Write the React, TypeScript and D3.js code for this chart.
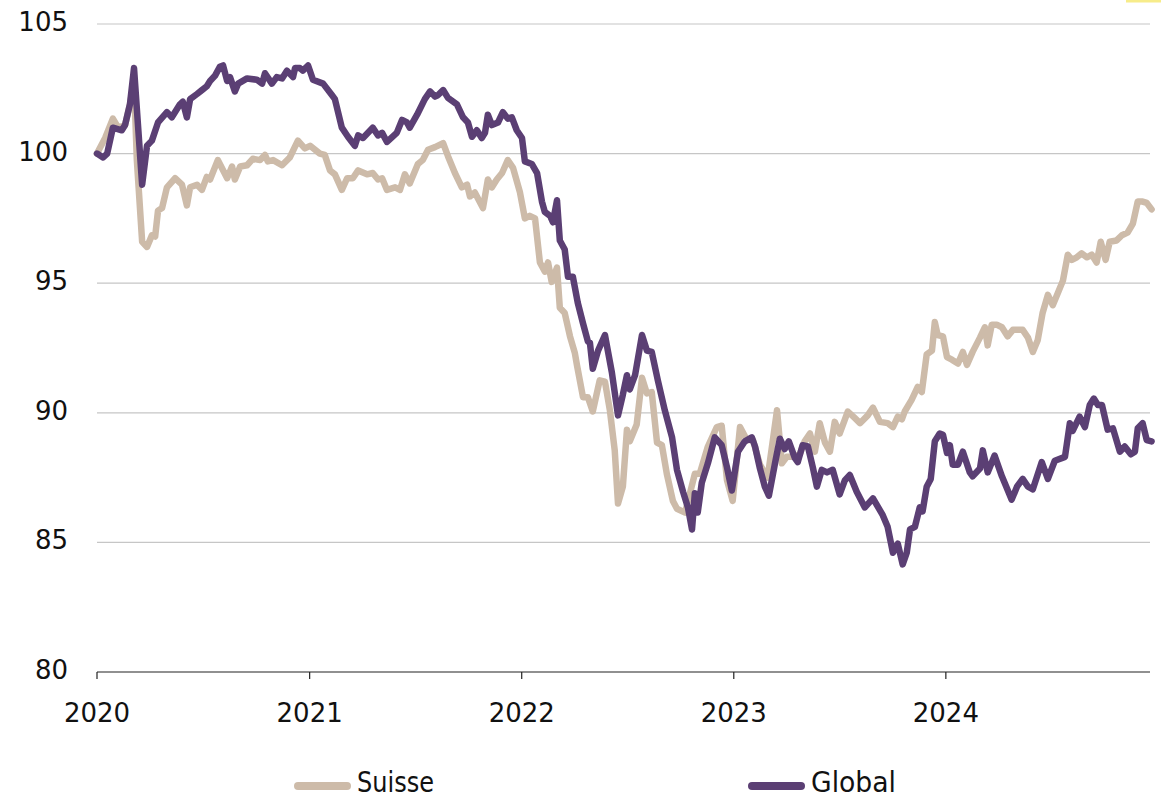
import React from "react";
import * as d3 from "d3";

// ---- Data (weeks since 2020-01-01, index level) ----
const yTicks = [80, 85, 90, 95, 100, 105];
const xTickYears = [2020, 2021, 2022, 2023, 2024];
const seriesNames = ["Suisse", "Global"];

const globalWeeks = [
  0, 1.5, 2.5, 3.9, 6.1, 6.9, 8.1, 9.1, 11.1, 12.3, 13.5, 15.0, 17.2, 18.4, 20.4, 21.1, 22.1, 22.9, 24.6, 25.8,
  27.0, 27.8, 29.0, 30.2, 31.0, 32.0, 32.7, 33.9, 34.7, 36.9, 39.3, 40.6, 41.3, 43.0, 44.2, 45.5, 46.7, 48.2, 48.7, 49.9,
  50.6, 51.9, 53.1, 55.6, 57.8, 58.5, 60.2, 61.7, 63.4, 64.2, 65.4, 67.8, 69.1, 70.1, 71.3, 73.7, 75.0, 76.2, 76.9, 78.7,
  80.6, 81.9, 83.1, 83.8, 85.1, 86.3, 88.5, 90.0, 91.2, 92.2, 93.4, 94.6, 95.4, 96.1, 97.1, 98.6, 99.8, 101.0, 102.0, 103.2,
  104.5, 105.2, 106.9, 108.2, 109.4, 110.1, 111.4, 112.1, 113.1, 113.8, 115.0, 115.8, 117.0, 118.2, 119.5, 120.7, 121.2, 121.9, 123.2, 124.9,
  126.6, 128.1, 129.3, 130.3, 131.0, 132.3, 134.0, 135.2, 136.4, 137.9, 139.6, 141.4, 142.6, 144.1, 145.3, 146.3, 147.0, 147.7, 148.7, 150.2,
  151.9, 153.6, 154.9, 156.1, 157.6, 159.3, 161.0, 161.8, 163.0, 164.2, 165.2, 166.7, 167.9, 169.1, 170.1, 171.6, 172.3, 173.5, 174.8, 176.0,
  177.0, 178.2, 179.5, 180.9, 182.6, 183.9, 185.1, 186.8, 188.8, 190.8, 193.2, 194.4, 195.7, 196.9, 198.1, 199.1, 199.9, 201.1, 202.3, 203.0,
  204.0, 205.0, 206.0, 207.2, 208.0, 209.0, 209.7, 210.4, 211.7, 212.9, 214.6, 215.3, 217.1, 217.8, 219.0, 220.7, 222.5, 223.7, 224.9, 226.2,
  227.6, 228.9, 230.1, 232.3, 233.8, 235.5, 237.2, 238.0, 239.2, 239.9, 241.6, 242.9, 244.1, 245.1, 246.1, 247.1, 248.5, 249.8, 251.5, 252.7,
  254.2, 255.2, 255.9, 257.1, 258.1, 259.3,
];
const globalValues = [
  100.0, 99.85, 100.0, 101.0, 100.9, 101.1, 101.9, 103.3, 98.8, 100.3, 100.5, 101.2, 101.6, 101.4, 101.9, 102.0, 101.4, 102.1, 102.3, 102.45,
  102.6, 102.8, 103.0, 103.35, 103.4, 102.8, 102.95, 102.4, 102.7, 102.9, 102.85, 102.7, 103.1, 102.7, 102.95, 102.9, 103.2, 102.95, 103.3, 103.3,
  103.2, 103.4, 102.85, 102.7, 102.25, 102.1, 101.0, 100.65, 100.3, 100.7, 100.6, 101.0, 100.7, 100.8, 100.45, 100.8, 101.3, 101.2, 101.0, 101.5,
  102.1, 102.4, 102.2, 102.25, 102.45, 102.15, 101.9, 101.4, 101.2, 100.65, 100.9, 100.6, 100.8, 101.5, 101.1, 101.2, 101.6, 101.35, 101.4, 100.9,
  100.6, 99.7, 99.6, 99.25, 98.15, 97.75, 97.6, 97.35, 98.2, 96.65, 96.3, 95.25, 95.25, 94.25, 93.45, 92.75, 92.7, 91.7, 92.4, 93.0,
  91.55, 89.9, 90.7, 91.45, 90.9, 91.45, 93.0, 92.4, 92.35, 91.25, 90.1, 89.05, 87.8, 86.95, 86.35, 85.5, 86.9, 86.15, 87.3, 88.05,
  89.05, 88.75, 87.9, 87.0, 88.5, 88.9, 89.05, 88.7, 87.85, 87.15, 86.8, 88.05, 89.0, 88.6, 88.9, 88.25, 88.1, 88.75, 88.7, 87.9,
  87.15, 87.8, 87.7, 87.8, 86.85, 87.4, 87.6, 86.95, 86.35, 86.7, 86.05, 85.6, 84.6, 84.95, 84.15, 84.6, 85.5, 85.6, 86.35, 86.2,
  87.15, 87.45, 88.9, 89.2, 89.15, 88.45, 88.75, 88.0, 88.0, 88.5, 87.7, 87.55, 87.85, 88.55, 87.7, 88.35, 87.55, 87.1, 86.65, 87.15,
  87.45, 87.15, 87.05, 88.1, 87.45, 88.15, 88.25, 88.3, 89.6, 89.3, 89.85, 89.45, 90.3, 90.55, 90.3, 90.3, 89.35, 89.4, 88.5, 88.7,
  88.4, 88.5, 89.4, 89.6, 88.95, 88.9,
];

const suisseWeeks = [
  0, 2.0, 3.9, 5.2, 6.9, 8.1, 9.1, 9.8, 11.1, 12.3, 13.5, 14.3, 15.0, 16.0, 17.2, 19.2, 20.9, 22.1, 22.9, 24.6,
  25.8, 27.0, 27.8, 29.7, 32.0, 33.2, 33.9, 35.2, 36.9, 38.3, 40.1, 41.3, 42.0, 43.3, 45.5, 47.4, 49.4, 51.1, 52.4, 54.8,
  56.0, 57.3, 58.5, 60.2, 61.5, 62.9, 64.2, 66.4, 67.8, 69.1, 70.1, 71.3, 73.3, 74.5, 75.7, 76.9, 78.9, 80.1, 81.4, 83.1,
  85.1, 86.3, 88.0, 89.7, 91.0, 91.7, 92.9, 94.9, 96.1, 97.1, 98.3, 99.6, 101.0, 102.3, 104.0, 105.2, 106.4, 107.7, 108.9, 110.1,
  110.9, 111.8, 113.1, 113.8, 115.0, 116.3, 117.5, 118.0, 119.5, 120.7, 121.9, 123.6, 124.9, 126.1, 127.3, 128.1, 129.3, 130.3, 131.0, 132.7,
  134.0, 135.2, 136.4, 137.7, 138.9, 140.1, 141.6, 142.6, 144.6, 147.0, 148.2, 150.2, 152.4, 153.6, 154.9, 156.3, 158.1, 159.8, 161.3, 163.0,
  164.9, 167.2, 168.4, 169.6, 171.1, 172.8, 174.0, 175.3, 176.5, 177.7, 179.0, 180.2, 181.4, 182.6, 184.6, 186.3, 187.6, 189.5, 190.8, 192.5,
  194.4, 195.7, 196.9, 197.9, 198.6, 200.3, 201.8, 202.8, 204.0, 205.3, 206.0, 206.7, 208.0, 209.0, 210.2, 211.7, 212.9, 213.9, 215.3, 217.1,
  218.3, 219.0, 220.0, 221.2, 222.5, 223.9, 225.2, 227.6, 228.9, 230.1, 231.3, 232.5, 233.8, 235.0, 236.2, 237.5, 238.7, 239.7, 240.9, 242.1,
  243.4, 244.6, 245.8, 246.8, 248.0, 249.0, 250.7, 252.0, 253.4, 254.7, 255.9, 257.1, 258.1, 259.3,
];
const suisseValues = [
  100.0, 100.6, 101.35, 101.0, 101.1, 101.9, 102.8, 99.75, 96.6, 96.4, 96.85, 96.8, 97.8, 97.9, 98.7, 99.05, 98.8, 98.0, 98.7, 98.8,
  98.6, 99.1, 99.0, 99.75, 99.05, 99.5, 99.0, 99.5, 99.55, 99.8, 99.75, 99.95, 99.7, 99.75, 99.55, 99.85, 100.5, 100.2, 100.3, 100.0,
  99.95, 99.35, 99.2, 98.6, 99.05, 99.05, 99.35, 99.2, 99.25, 99.0, 99.05, 98.6, 98.7, 98.6, 99.2, 98.85, 99.6, 99.75, 100.15, 100.25,
  100.4, 99.9, 99.25, 98.7, 98.8, 98.35, 98.5, 97.9, 99.0, 98.7, 99.0, 99.25, 99.75, 99.45, 98.5, 97.5, 97.6, 97.5, 95.8, 95.45,
  95.8, 95.05, 95.6, 94.05, 93.85, 92.95, 92.3, 91.85, 90.6, 90.6, 90.05, 91.25, 91.2, 90.1, 88.55, 86.5, 87.15, 89.35, 88.9, 89.55,
  91.35, 90.75, 90.8, 88.85, 88.75, 87.65, 86.6, 86.3, 86.15, 87.65, 87.65, 88.7, 89.45, 89.5, 87.4, 86.6, 89.45, 88.95, 88.95, 88.0,
  87.5, 90.1, 88.05, 88.3, 88.3, 88.4, 88.9, 89.2, 88.5, 89.6, 88.85, 88.5, 89.65, 89.2, 90.05, 89.8, 89.6, 89.9, 90.2, 89.65,
  89.6, 89.45, 89.85, 89.75, 90.05, 90.5, 91.0, 90.8, 92.25, 92.4, 93.5, 93.0, 92.95, 92.15, 92.05, 91.9, 92.35, 91.85, 92.35, 92.9,
  93.3, 92.6, 93.4, 93.4, 93.3, 92.95, 93.2, 93.2, 92.9, 92.35, 92.8, 93.85, 94.55, 94.15, 94.6, 95.1, 96.1, 95.9, 96.0, 96.15,
  96.0, 96.1, 95.8, 96.6, 95.9, 96.6, 96.65, 96.85, 96.95, 97.3, 98.15, 98.15, 98.1, 97.85,
];

const colors = { Suisse: "#cdbba9", Global: "#5b3f74" };

const W = 1161;
const H = 799;
const start = new Date(2020, 0, 1);

export default function App() {
  const x = d3.scaleTime().domain([start, new Date(2025, 0, 1)]).range([97, 1158.5]);
  const y = d3.scaleLinear().domain([80, 105]).range([672, 24]);
  const toDate = (w: number) => d3.timeHour.offset(start, Math.round(w * 7 * 24));

  const line = d3
    .line<[number, number]>()
    .x((d) => x(toDate(d[0])))
    .y((d) => y(d[1]))
    .curve(d3.curveLinear);

  const suisse: [number, number][] = suisseWeeks.map((w, i) => [w, suisseValues[i]]);
  const global: [number, number][] = globalWeeks.map((w, i) => [w, globalValues[i]]);

  const font = "'DejaVu Sans', 'Noto Sans', sans-serif";
  const legendFont = "'DejaVu Sans Condensed', 'DejaVu Sans', sans-serif";
  const gridRight = 1150;
  const x0 = x(start);

  const legendItems = [
    { name: seriesNames[0], x1: 298, color: colors.Suisse, w: 77 },
    { name: seriesNames[1], x1: 752, color: colors.Global, w: 85 },
  ];

  return (
    <svg width={W} height={H} style={{ position: "absolute", left: 0, top: 0, background: "#fff" }}>
      <rect x={1126} y={0} width={35} height={2.5} fill="#f7ec8a" />
      {yTicks.filter((t) => t !== 80).map((t) => (
        <line key={t} x1={x0} x2={gridRight} y1={y(t)} y2={y(t)} stroke="#c6c6c6" strokeWidth={1.2} />
      ))}
      <line x1={x0} x2={gridRight} y1={y(80)} y2={y(80)} stroke="#222" strokeWidth={1.2} />
      {xTickYears.map((yr) => {
        const xx = x(new Date(yr, 0, 1));
        return (
          <g key={yr}>
            <line x1={xx} x2={xx} y1={y(80)} y2={y(80) + 7} stroke="#222" strokeWidth={1.2} />
            <text x={xx} y={722} textAnchor="middle" fontFamily={font} fontSize={26} fill="#111">
              {yr}
            </text>
          </g>
        );
      })}
      {yTicks.map((t) => (
        <text key={t} x={68} y={y(t) + 7} textAnchor="end" fontFamily={font} fontSize={26} fill="#111">
          {t}
        </text>
      ))}
      <path d={line(suisse) || ""} fill="none" stroke={colors.Suisse} strokeWidth={6.5} strokeLinejoin="round" strokeLinecap="round" />
      <path d={line(global) || ""} fill="none" stroke={colors.Global} strokeWidth={6.5} strokeLinejoin="round" strokeLinecap="round" />
      {legendItems.map((it) => (
        <g key={it.name}>
          <line x1={it.x1} x2={it.x1 + 49} y1={786} y2={786} stroke={it.color} strokeWidth={8} strokeLinecap="round" />
          <text
            x={it.x1 + 59}
            y={792}
            fontFamily={legendFont}
            fontStretch="condensed"
            fontWeight={300}
            fontSize={29}
            textLength={it.w}
            lengthAdjust="spacingAndGlyphs"
            fill="#111"
          >
            {it.name}
          </text>
        </g>
      ))}
    </svg>
  );
}
